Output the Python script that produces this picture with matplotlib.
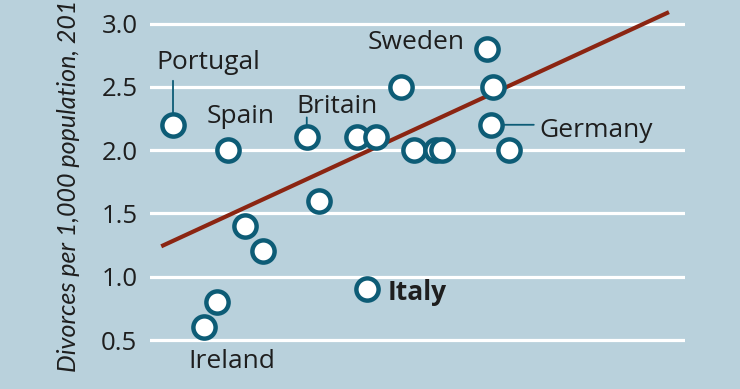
import matplotlib
matplotlib.use("Agg")
import matplotlib.pyplot as plt

# ---- data (x axis is not shown in the crop; x in arbitrary index units) ----
x_vals = [4.3, 14.6, 17.8, 21.1, 12.5, 10.1, 29.3, 31.6, 38.7, 42.2, 40.6,
          46.9, 49.3, 53.5, 54.6, 63.0, 64.1, 63.7, 67.1]
y_vals = [2.2, 2.0, 1.4, 1.2, 0.8, 0.6, 2.1, 1.6, 2.1, 2.1, 0.9,
          2.5, 2.0, 2.0, 2.0, 2.8, 2.5, 2.2, 2.0]
trend_x = [2.1, 97.0]
trend_y = [1.24, 3.09]
y_ticks = [0.5, 1.0, 1.5, 2.0, 2.5, 3.0]
y_ticklabels = ["0.5", "1.0", "1.5", "2.0", "2.5", "3.0"]
labels = {0: "Portugal", 1: "Spain", 6: "Britain", 15: "Sweden",
          17: "Germany", 10: "Italy", 5: "Ireland"}
y_title = "Divorces per 1,000 population, 2011"

BG = "#b9d1dc"
TEAL = "#0d5c76"
RED = "#8b2512"
TXT = "#1e1e1e"
FONT = "Open Sans"

fig = plt.figure(figsize=(7.4, 3.89), dpi=100)
fig.patch.set_facecolor(BG)
ax = fig.add_axes([150 / 740, 0, 535 / 740, 1])
ax.set_facecolor(BG)
ax.set_xlim(0, 100)
ax.set_ylim(0.5 - 49 / 126.6, 0.5 + 340 / 126.6)
for s in ax.spines.values():
    s.set_visible(False)
ax.set_xticks([])
ax.set_yticks(y_ticks)
ax.set_yticklabels(y_ticklabels, fontsize=18.5, color=TXT, family=FONT)
ax.tick_params(axis="y", length=0, pad=9)
for t in y_ticks:
    ax.axhline(t, color="white", lw=2.3, zorder=1)

ax.plot(trend_x, trend_y, color=RED, lw=3, zorder=2, solid_capstyle="butt")
ax.plot(x_vals, y_vals, "o", ms=16, mfc="white", mec=TEAL, mew=3.2,
        zorder=4, linestyle="none")

# connector lines (offsets in pixels from the point)
connectors = {0: (0, 44), 6: (0, 20), 17: (43, 0)}
for i, (dx, dy) in connectors.items():
    ax.annotate("", xy=(x_vals[i], y_vals[i]), xytext=(dx, dy),
                textcoords="offset pixels",
                arrowprops=dict(arrowstyle="-", color=TEAL, lw=1.3,
                                shrinkA=0, shrinkB=0), zorder=3)

offsets = {0: (-17, 56, "left"), 1: (-21, 27, "left"), 6: (-10, 24, "left"),
           15: (-22, 0, "right"), 17: (49, -12, "left"), 10: (20, -11, "left"),
           5: (-16, -41, "left")}
for i, name in labels.items():
    dx, dy, ha = offsets[i]
    ax.annotate(name, xy=(x_vals[i], y_vals[i]), xytext=(dx, dy),
                textcoords="offset pixels", ha=ha, va="baseline",
                fontsize=19, color=TXT, family=FONT,
                fontweight="bold" if name == "Italy" else "normal", zorder=5)

fig.text(68 / 740, 1 - 372 / 389, y_title, rotation=90, ha="left",
         va="center", rotation_mode="anchor", fontsize=18, style="italic",
         color=TXT, family="Lato")

fig.savefig("out.png", dpi=100, facecolor=BG)
